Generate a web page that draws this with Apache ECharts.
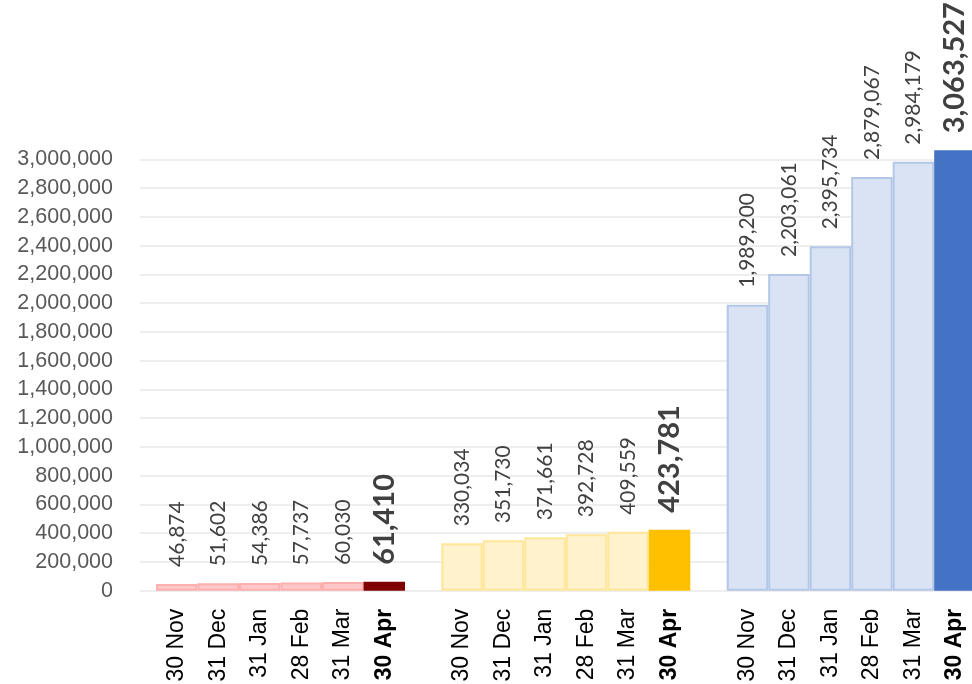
<!DOCTYPE html>
<html>
<head>
<meta charset="utf-8">
<script src="https://cdn.jsdelivr.net/npm/echarts@6/dist/echarts.min.js"></script>
<style>
  html, body { margin: 0; padding: 0; background: #ffffff; }
  #chart { width: 972px; height: 684px; }
</style>
</head>
<body>
<div id="chart"></div>
<script>
// ---- data ----
const months = ['30 Nov', '31 Dec', '31 Jan', '28 Feb', '31 Mar', '30 Apr'];
const groupA = [46874, 51602, 54386, 57737, 60030, 61410];
const groupB = [330034, 351730, 371661, 392728, 409559, 423781];
const groupC = [1989200, 2203061, 2395734, 2879067, 2984179, 3063527];
const yMin = 0;
const yMax = 3000000;
const yStep = 200000;

// ---- styles ----
const axisFont = "'Liberation Sans Narrow', 'Arial Narrow', 'Liberation Sans', Arial, sans-serif";
const labelFont = "Lato, 'Open Sans', sans-serif";
const groupStyles = [
  { light: '#FFC7C7', lightBorder: '#FFAFAF', dark: '#800000' },
  { light: '#FFF2CC', lightBorder: '#FFE699', dark: '#FFC000' },
  { light: '#DAE3F3', lightBorder: '#B4C7E7', dark: '#4472C4' }
];
const groupLefts = [156, 441.3, 726.7];
const groupWidth = 249;
const plotTop = 159.5;
const plotBottom = 684 - 590.7;

const fmt = v => v.toLocaleString('en-US');

const grids = [{ left: 140, right: 0, top: plotTop, bottom: plotBottom, containLabel: false, outerBoundsMode: 'none' }];
const xAxes = [{ gridIndex: 0, type: 'category', data: [''], show: false }];
const yAxes = [{
  gridIndex: 0, type: 'value', min: yMin, max: yMax, interval: yStep,
  axisLine: { show: false }, axisTick: { show: false },
  axisLabel: { margin: 27, color: '#595959', fontFamily: axisFont, fontSize: 21.5, formatter: v => fmt(v) },
  splitLine: { lineStyle: { color: '#E8E8E8', width: 1.5 } }
}];
const series = [];

[groupA, groupB, groupC].forEach((vals, gi) => {
  const gIdx = gi + 1;
  const st = groupStyles[gi];
  grids.push({ left: groupLefts[gi], width: groupWidth, top: plotTop, bottom: plotBottom, containLabel: false, outerBoundsMode: 'none' });
  xAxes.push({
    gridIndex: gIdx, type: 'category', data: months,
    axisLine: { show: false }, axisTick: { show: false },
    axisLabel: {
      interval: 0, rotate: 90, margin: 18, color: '#000000',
      fontFamily: axisFont, fontSize: 23,
      formatter: (v, i) => i === months.length - 1 ? '{b|' + v + '}' : v,
      rich: { b: { fontFamily: axisFont, fontSize: 23, fontWeight: 'bold', color: '#000000' } }
    }
  });
  yAxes.push({
    gridIndex: gIdx, type: 'value', min: yMin, max: yMax, interval: yStep, show: false,
    splitLine: { show: false }
  });
  series.push({
    type: 'bar', xAxisIndex: gIdx, yAxisIndex: gIdx,
    barCategoryGap: 0, clip: false,
    data: vals.map((v, i) => {
      const last = i === vals.length - 1;
      return {
        value: v,
        itemStyle: {
          color: last ? st.dark : st.light,
          borderColor: last ? st.dark : st.lightBorder,
          borderWidth: 2
        },
        label: last ? { fontSize: 29, fontWeight: 'bold' } : {}
      };
    }),
    label: {
      show: true, position: 'top', distance: 17, rotate: 90,
      align: 'left', verticalAlign: 'middle',
      color: '#404040', fontFamily: labelFont, fontSize: 21,
      formatter: p => fmt(p.value)
    }
  });
});

const chart = echarts.init(document.getElementById('chart'), null, { renderer: 'canvas' });
chart.setOption({
  animation: false,
  backgroundColor: '#ffffff',
  grid: grids,
  xAxis: xAxes,
  yAxis: yAxes,
  series: series
});
</script>
</body>
</html>
